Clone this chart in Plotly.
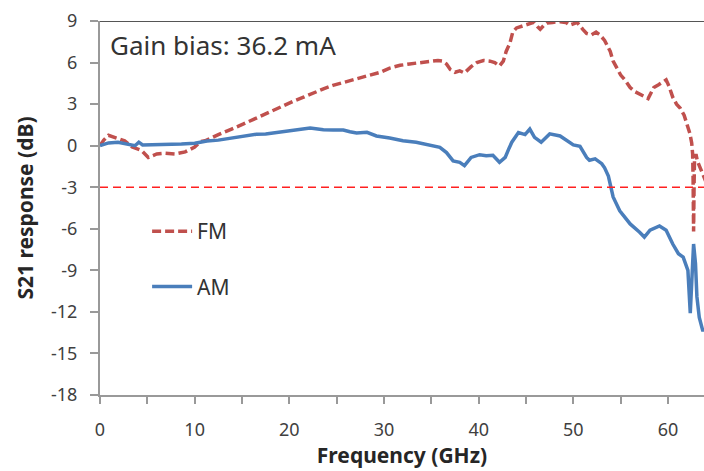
import plotly.graph_objects as go

# FM response (GHz, dB)
fm_freq = [0.0, 0.4, 0.9, 1.6, 2.6, 3.4, 4.4, 5.1, 6.0, 6.9, 7.9, 9.0, 10.0, 10.6, 11.1, 12.5, 13.0, 13.9,
           15.1, 16.2, 17.2, 18.3, 19.4, 20.4, 21.5, 22.5, 23.6, 24.6, 25.7, 26.7, 27.8, 28.7, 29.6, 30.6,
           31.7, 32.7, 33.8, 34.8, 35.7, 36.2, 36.6, 37.0, 37.5, 38.0, 38.5, 39.2, 39.8, 40.5, 41.2, 41.7,
           42.2, 42.6, 42.9, 43.3, 43.6, 44.0, 44.5, 45.0, 45.4, 45.8, 46.2, 46.5, 46.9, 47.2, 47.8, 48.6,
           49.2, 49.6, 50.0, 50.4, 51.0, 51.4, 51.9, 52.4, 52.8, 53.3, 53.6, 53.9, 54.2, 54.5, 55.0, 55.5,
           56.0, 56.5, 57.0, 57.5, 57.9, 58.2, 58.5, 59.0, 59.5, 59.8, 60.1, 60.5, 60.9, 61.3, 61.7, 62.0,
           62.3, 62.5, 62.6, 62.65, 62.7, 62.75, 62.8, 62.95, 63.1, 63.4, 63.8, 64.0]
fm_db = [0.0, 0.4, 0.75, 0.6, 0.35, -0.1, -0.35, -0.85, -0.6, -0.55, -0.6, -0.45, -0.1, 0.3, 0.35, 0.8, 0.96, 1.2,
         1.55, 1.9, 2.15, 2.5, 2.85, 3.2, 3.5, 3.8, 4.1, 4.35, 4.55, 4.75, 4.95, 5.15, 5.3, 5.6,
         5.8, 5.9, 6.0, 6.05, 6.15, 6.1, 5.9, 5.5, 5.3, 5.4, 5.25, 5.7, 6.0, 6.15, 6.1, 6.0,
         5.75, 6.1, 6.8, 7.4, 8.2, 8.5, 8.6, 8.7, 8.8, 8.9, 8.6, 8.4, 8.7, 8.85, 8.9, 8.95,
         8.9, 8.7, 8.8, 8.9, 8.4, 8.1, 8.0, 8.2, 8.0, 7.6, 7.2, 6.8, 6.1, 5.7, 5.1, 4.7,
         4.2, 3.9, 3.75, 3.55, 3.4, 3.8, 4.2, 4.4, 4.6, 4.75, 4.3, 3.5, 3.0, 2.7, 2.2, 1.6,
         0.9, 0.2, -0.6, -2.5, -6.2, -3.0, -0.9, -0.6, -1.1, -1.6, -2.3, -2.6]

# AM response (GHz, dB)
am_freq = [0.0, 0.5, 0.9, 1.9, 3.0, 3.7, 4.1, 4.5, 5.5, 6.5, 7.5, 8.6, 10.0, 11.3, 12.5, 13.5, 15.3, 16.5,
           17.5, 18.8, 20.2, 21.0, 21.8, 22.2, 23.0, 23.6, 24.6, 25.7, 26.4, 27.1, 28.2, 29.2, 30.6, 32.0,
           33.4, 34.8, 35.9, 36.6, 37.0, 37.3, 38.0, 38.5, 39.2, 40.1, 40.8, 41.5, 42.2, 42.8, 43.2, 43.5,
           44.2, 44.9, 45.4, 45.9, 46.6, 47.5, 48.6, 49.3, 50.0, 50.7, 51.0, 51.4, 51.7, 52.3, 53.0, 53.3,
           53.7, 53.9, 54.2, 54.9, 55.5, 56.0, 57.0, 57.5, 58.1, 59.1, 59.8, 60.5, 61.1, 61.6, 62.1, 62.35,
           62.6, 62.7, 62.9, 63.05, 63.3, 63.65, 64.0]
am_db = [0.0, 0.1, 0.2, 0.25, 0.12, 0.0, 0.25, 0.05, 0.07, 0.07, 0.1, 0.12, 0.17, 0.33, 0.4, 0.5, 0.65, 0.82,
         0.85, 0.96, 1.08, 1.15, 1.2, 1.27, 1.2, 1.15, 1.13, 1.13, 1.0, 0.92, 0.96, 0.7, 0.55, 0.36,
         0.24, 0.02, -0.12, -0.5, -0.85, -1.1, -1.2, -1.44, -0.85, -0.65, -0.72, -0.7, -1.2, -0.85, -0.2, 0.25,
         0.95, 0.8, 1.2, 0.6, 0.25, 0.85, 0.7, 0.35, 0.05, -0.05, -0.45, -0.85, -1.05, -0.95, -1.3, -1.6,
         -2.2, -2.76, -3.7, -4.7, -5.2, -5.65, -6.25, -6.6, -6.1, -5.8, -6.1, -7.1, -7.8, -8.05, -9.0, -12.1,
         -8.5, -7.1, -8.5, -10.9, -12.4, -13.3, -13.3]

ref_level = -3
x_ticks = [0, 10, 20, 30, 40, 50, 60]
x_ticklabels = ["0", "10", "20", "30", "40", "50", "60"]
y_ticks = [9, 6, 3, 0, -3, -6, -9, -12, -15, -18]
y_ticklabels = ["9", "6", "3", "0", "-3", "-6", "-9", "-12", "-15", "-18"]
annotation_text = "Gain bias: 36.2 mA"

FONT = "'Noto Sans', 'Open Sans', sans-serif"
AXIS_COLOR = "#999999"

fig = go.Figure()
fig.add_trace(go.Scatter(x=fm_freq, y=fm_db, mode="lines", name="FM", legendgroup="fm",
                         line=dict(color="#c0504d", width=3.5, dash="9px,4px")))
fig.add_trace(go.Scatter(x=am_freq, y=am_db, mode="lines", name="AM", legendgroup="am",
                         line=dict(color="#4a7ebb", width=3.5)))

fig.add_shape(type="line", xref="paper", x0=0, x1=1, yref="y", y0=ref_level, y1=ref_level,
              line=dict(color="#ff2020", width=1.5, dash="8px,5px"))
fig.add_shape(type="line", xref="paper", x0=0, x1=1, yref="y", y0=9, y1=9,
              line=dict(color="#555555", width=2))

fig.add_annotation(text=annotation_text, xref="paper", yref="paper", x=0.014, y=0.935,
                   xanchor="left", yanchor="middle", showarrow=False,
                   font=dict(family=FONT, size=26, color="#333333"))

fig.update_layout(
    width=704, height=471,
    margin=dict(l=100, r=0, t=21, b=76, autoexpand=False),
    paper_bgcolor="white", plot_bgcolor="white",
    font=dict(family=FONT, color="#404040"),
    showlegend=True,
    legend=dict(x=0.078, y=0.492, xanchor="left", yanchor="top", itemwidth=40,
                bgcolor="rgba(0,0,0,0)", tracegroupgap=25,
                font=dict(family=FONT, size=21, color="#333333")),
    xaxis=dict(range=[0, 63.8], tickvals=x_ticks, ticktext=x_ticklabels, showgrid=False, zeroline=False,
               automargin=False,
               showline=True, linecolor=AXIS_COLOR, linewidth=2,
               ticks="outside", ticklen=7, tickcolor=AXIS_COLOR, tickwidth=1.5,
               minor=dict(dtick=5, ticks="outside", ticklen=7, tickcolor=AXIS_COLOR, tickwidth=1.5),
               ticklabelstandoff=10,
               tickfont=dict(family=FONT, size=18, color="#404040"),
               title=dict(text="<b>Frequency (GHz)</b>", standoff=6,
                          font=dict(family=FONT, size=21, color="#262626"))),
    yaxis=dict(range=[-18, 9], tickvals=y_ticks, ticktext=y_ticklabels, showgrid=False, zeroline=False,
               automargin=False,
               showline=True, linecolor=AXIS_COLOR, linewidth=2,
               ticks="outside", ticklen=8, tickcolor=AXIS_COLOR, tickwidth=1.5,
               ticklabelstandoff=9,
               tickfont=dict(family=FONT, size=18, color="#404040"),
               title=dict(text="<b>S21 response (dB)</b>", standoff=12,
                          font=dict(family=FONT, size=21, color="#262626"))),
)

fig.write_html("out.html", config={"displayModeBar": False},
               post_script="document.body.style.margin='0px';")
